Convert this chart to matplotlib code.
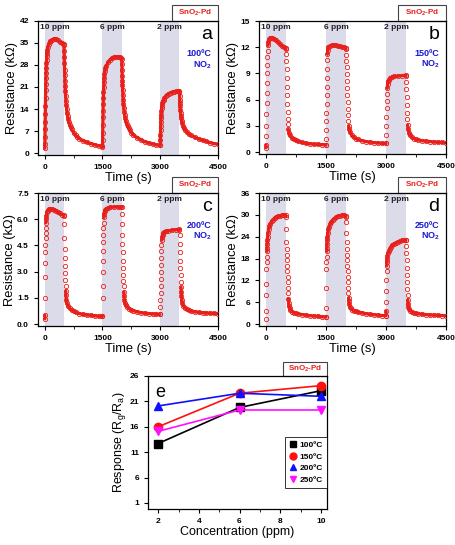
import numpy as np
import matplotlib
matplotlib.use("Agg")
import matplotlib.pyplot as plt
from matplotlib.patches import Rectangle
from matplotlib.lines import Line2D
from matplotlib.collections import LineCollection
from matplotlib.ticker import AutoMinorLocator, FormatStrFormatter

plt.rcParams['font.family'] = ['Liberation Sans', 'DejaVu Sans']
plt.rcParams['mathtext.fontset'] = 'custom'
plt.rcParams['mathtext.rm'] = 'Liberation Sans'
plt.rcParams['mathtext.bf'] = 'Liberation Sans:bold'
plt.rcParams['mathtext.it'] = 'Liberation Sans:italic'

# exposure windows (s) and their concentrations
pulses = [(0, 500), (1500, 2000), (3000, 3500)]
pulse_labels = ["10 ppm", "6 ppm", "2 ppm"]

# ---- panel a : 100 C ----
t_a = [0, 3, 6, 9, 12, 15, 18, 21, 24, 27, 30, 34, 38, 43, 48, 54, 60, 70, 80, 100, 125, 150, 200, 250, 300, 350, 400, 450, 490,
       500, 504, 508, 512, 516, 520, 525, 530, 536, 543, 551, 560, 570, 582, 596, 612, 630, 650, 675, 700, 750, 800, 850, 900, 1000, 1100, 1200, 1300, 1400, 1490,
       1500, 1503, 1506, 1509, 1512, 1515, 1518, 1522, 1526, 1531, 1537, 1544, 1552, 1562, 1575, 1600, 1650, 1700, 1750, 1800, 1850, 1900, 1950, 1990,
       2000, 2004, 2008, 2012, 2016, 2020, 2025, 2031, 2038, 2046, 2055, 2066, 2078, 2092, 2110, 2130, 2155, 2180, 2210, 2250, 2300, 2400, 2500, 2600, 2700, 2800, 2900, 2990,
       3000, 3003, 3006, 3009, 3012, 3015, 3019, 3024, 3030, 3037, 3046, 3058, 3072, 3090, 3110, 3140, 3175, 3220, 3270, 3320, 3370, 3420, 3470, 3495,
       3500, 3504, 3508, 3512, 3517, 3523, 3530, 3538, 3548, 3560, 3575, 3595, 3620, 3650, 3700, 3750, 3800, 3900, 4000, 4100, 4200, 4300, 4400, 4500]
r_a = [1.5, 3, 5, 7.5, 10, 12.5, 15, 17.5, 20, 22, 23.8, 25.5, 27, 28.5, 29.7, 30.8, 31.7, 32.8, 33.6, 34.6, 35.3, 35.7, 36.1, 36.3, 36.2, 35.8, 35.3, 35.0, 34.7,
       34.5, 32.5, 30.5, 28.5, 26.5, 24.8, 23, 21.3, 19.6, 18, 16.5, 15.2, 14, 12.8, 11.7, 10.7, 9.8, 9.0, 8.2, 7.5, 6.5, 5.7, 5.1, 4.6, 3.9, 3.4, 3.0, 2.6, 2.3, 2.1,
       2.0, 4, 6.5, 9, 11.5, 13.5, 15.5, 17.5, 19.3, 21, 22.5, 23.8, 25, 26, 26.9, 27.8, 28.9, 29.7, 30.2, 30.5, 30.6, 30.6, 30.5, 30.3,
       30.0, 28.2, 26.4, 24.6, 23, 21.5, 20, 18.5, 17, 15.6, 14.4, 13.2, 12.1, 11.1, 10.1, 9.3, 8.5, 7.8, 7.2, 6.5, 5.8, 4.9, 4.2, 3.6, 3.2, 2.9, 2.6, 2.4,
       2.4, 4, 5.7, 7.2, 8.6, 9.8, 11, 12.2, 13.3, 14.2, 15, 15.8, 16.4, 17, 17.5, 18, 18.5, 18.9, 19.2, 19.4, 19.5, 19.6, 19.6, 19.6,
       19.4, 18.2, 17, 15.9, 14.8, 13.8, 12.8, 11.9, 11, 10.2, 9.4, 8.6, 7.9, 7.3, 6.6, 6.0, 5.6, 5.0, 4.5, 4.1, 3.7, 3.3, 3.0, 2.8]

# ---- panel b : 150 C ----
t_b = [0, 3, 6, 9, 12, 15, 18, 21, 25, 30, 35, 40, 50, 60, 80, 100, 150, 200, 250, 300, 350, 400, 450, 490,
       500, 505, 510, 515, 520, 525, 530, 535, 540, 545, 550, 560, 575, 600, 650, 700, 750, 800, 900, 1000, 1100, 1200, 1300, 1400, 1490,
       1500, 1503, 1506, 1509, 1512, 1515, 1518, 1521, 1524, 1527, 1531, 1536, 1545, 1560, 1600, 1650, 1700, 1750, 1800, 1850, 1900, 1950, 1990,
       2000, 2005, 2010, 2015, 2020, 2025, 2030, 2035, 2040, 2045, 2050, 2055, 2065, 2080, 2100, 2150, 2200, 2250, 2300, 2400, 2500, 2600, 2700, 2800, 2900, 2990,
       3000, 3004, 3008, 3012, 3016, 3020, 3025, 3032, 3040, 3055, 3075, 3100, 3150, 3200, 3300, 3400, 3490,
       3500, 3505, 3510, 3515, 3520, 3525, 3530, 3540, 3555, 3575, 3600, 3650, 3700, 3750, 3800, 3900, 4000, 4100, 4200, 4300, 4400, 4500]
r_b = [0.5, 0.8, 1.8, 3.0, 4.3, 5.6, 6.8, 7.9, 9.0, 10.0, 10.9, 11.6, 12.2, 12.6, 12.9, 13.05, 13.1, 13.0, 12.8, 12.6, 12.35, 12.15, 12.0, 11.9,
       11.8, 11.2, 10.4, 9.5, 8.5, 7.5, 6.5, 5.5, 4.6, 3.8, 3.2, 2.6, 2.2, 1.9, 1.6, 1.45, 1.35, 1.25, 1.1, 1.0, 0.95, 0.9, 0.87, 0.85, 0.83,
       0.8, 1.5, 2.5, 3.5, 4.5, 5.5, 6.5, 7.5, 8.5, 9.5, 10.5, 11.2, 11.7, 12.0, 12.15, 12.25, 12.25, 12.2, 12.15, 12.1, 12.05, 12.0, 11.95,
       11.8, 11.1, 10.4, 9.7, 8.9, 8.1, 7.3, 6.5, 5.7, 4.9, 4.2, 3.6, 3.0, 2.6, 2.3, 1.9, 1.7, 1.55, 1.45, 1.3, 1.2, 1.13, 1.08, 1.04, 1.0, 0.98,
       1.0, 2.0, 3.0, 4.0, 5.0, 5.9, 6.7, 7.3, 7.8, 8.1, 8.3, 8.45, 8.6, 8.65, 8.7, 8.75, 8.8,
       8.7, 8.0, 7.2, 6.3, 5.4, 4.5, 3.8, 3.1, 2.6, 2.2, 1.95, 1.7, 1.55, 1.47, 1.4, 1.3, 1.25, 1.2, 1.15, 1.12, 1.1, 1.08]

# ---- panel c : 200 C ----
t_c = [0, 3, 6, 9, 12, 15, 18, 21, 24, 28, 32, 37, 43, 55, 75, 100, 150, 200, 250, 300, 350, 400, 450, 490,
       500, 505, 510, 515, 520, 525, 530, 535, 540, 545, 550, 560, 575, 600, 650, 700, 750, 800, 900, 1000, 1100, 1200, 1300, 1400, 1490,
       1500, 1503, 1506, 1509, 1512, 1515, 1518, 1521, 1525, 1530, 1536, 1543, 1555, 1575, 1600, 1650, 1700, 1800, 1900, 1990,
       2000, 2005, 2010, 2015, 2020, 2025, 2030, 2035, 2040, 2045, 2050, 2055, 2062, 2070, 2085, 2100, 2150, 2200, 2250, 2300, 2400, 2500, 2600, 2700, 2800, 2900, 2990,
       3000, 3003, 3006, 3009, 3012, 3015, 3018, 3021, 3024, 3028, 3033, 3040, 3050, 3065, 3085, 3110, 3150, 3200, 3300, 3400, 3490,
       3500, 3505, 3510, 3515, 3520, 3525, 3530, 3535, 3540, 3545, 3552, 3560, 3575, 3600, 3650, 3700, 3750, 3800, 3900, 4000, 4100, 4200, 4300, 4400, 4500]
r_c = [0.3, 0.5, 1.5, 2.7, 3.5, 4.1, 4.5, 4.9, 5.2, 5.5, 5.8, 6.0, 6.2, 6.4, 6.5, 6.57, 6.6, 6.6, 6.55, 6.48, 6.4, 6.33, 6.27, 6.22,
       6.2, 5.7, 4.9, 4.3, 3.8, 3.3, 2.9, 2.5, 2.2, 1.9, 1.65, 1.4, 1.2, 1.05, 0.9, 0.8, 0.73, 0.68, 0.6, 0.55, 0.52, 0.5, 0.47, 0.45, 0.44,
       0.45, 1.5, 2.2, 3.0, 3.6, 4.2, 4.7, 5.1, 5.5, 5.8, 6.1, 6.3, 6.45, 6.55, 6.6, 6.65, 6.68, 6.7, 6.72, 6.72,
       6.7, 6.3, 5.7, 5.1, 4.6, 4.1, 3.6, 3.2, 2.8, 2.45, 2.15, 1.85, 1.6, 1.4, 1.2, 1.1, 0.97, 0.88, 0.82, 0.77, 0.7, 0.65, 0.62, 0.6, 0.58, 0.56, 0.55,
       0.55, 1.0, 1.4, 1.8, 2.2, 2.6, 3.0, 3.4, 3.8, 4.2, 4.5, 4.8, 5.0, 5.12, 5.2, 5.25, 5.3, 5.33, 5.37, 5.4, 5.42,
       5.4, 5.1, 4.6, 4.1, 3.6, 3.2, 2.8, 2.4, 2.1, 1.85, 1.6, 1.4, 1.2, 1.05, 0.92, 0.84, 0.79, 0.75, 0.7, 0.67, 0.65, 0.63, 0.62, 0.61, 0.6]

# ---- panel d : 250 C ----
t_d = [0, 3, 6, 9, 12, 15, 18, 21, 24, 28, 33, 40, 50, 65, 85, 110, 140, 175, 215, 260, 300, 350, 400, 450, 490,
       500, 505, 510, 515, 520, 525, 530, 535, 540, 545, 550, 555, 560, 567, 575, 590, 610, 650, 700, 750, 800, 900, 1000, 1100, 1200, 1300, 1400, 1490,
       1500, 1503, 1506, 1509, 1512, 1515, 1518, 1521, 1525, 1530, 1537, 1547, 1560, 1580, 1605, 1635, 1670, 1710, 1750, 1800, 1850, 1900, 1950, 1990,
       2000, 2005, 2010, 2015, 2020, 2025, 2030, 2035, 2040, 2045, 2050, 2055, 2060, 2066, 2073, 2082, 2095, 2120, 2160, 2200, 2250, 2300, 2400, 2500, 2600, 2700, 2800, 2900, 2990,
       3000, 3003, 3006, 3009, 3012, 3015, 3018, 3022, 3028, 3037, 3050, 3070, 3095, 3125, 3160, 3200, 3250, 3300, 3350, 3400, 3450, 3490,
       3500, 3505, 3510, 3515, 3520, 3525, 3530, 3535, 3540, 3546, 3553, 3562, 3575, 3600, 3650, 3700, 3750, 3800, 3900, 4000, 4100, 4200, 4300, 4400, 4500]
r_d = [1.5, 3.5, 8.0, 11.0, 15.0, 17.0, 18.5, 20.0, 21.0, 22.0, 23.0, 24.0, 25.0, 26.0, 26.9, 27.6, 28.2, 28.7, 29.1, 29.4, 29.6, 29.7, 29.9, 30.0, 29.9,
       29.5, 26.0, 22.5, 20.5, 19.0, 17.5, 16.0, 14.5, 13.0, 11.5, 10.0, 8.5, 7.0, 5.8, 5.0, 4.3, 3.8, 3.4, 3.1, 2.95, 2.8, 2.6, 2.45, 2.3, 2.2, 2.1, 2.0, 1.95,
       2.0, 4.5, 10.0, 15.0, 17.0, 18.5, 20.0, 21.0, 22.0, 23.0, 24.0, 25.0, 26.0, 26.8, 27.5, 28.1, 28.6, 29.0, 29.3, 29.6, 29.8, 29.9, 30.0, 29.8,
       29.5, 28.0, 25.0, 22.5, 20.5, 19.0, 17.5, 16.0, 14.5, 13.0, 11.5, 10.0, 8.5, 7.2, 6.2, 5.4, 4.8, 4.3, 3.9, 3.7, 3.5, 3.3, 3.05, 2.85, 2.7, 2.55, 2.45, 2.35, 2.3,
       2.3, 3.5, 6.0, 9.0, 12.0, 14.5, 16.0, 17.0, 18.0, 18.8, 19.5, 20.1, 20.7, 21.2, 21.6, 22.0, 22.3, 22.6, 22.8, 23.0, 23.1, 23.2,
       23.0, 21.5, 19.5, 17.5, 15.5, 13.5, 11.5, 9.5, 8.0, 6.6, 5.5, 4.7, 4.1, 3.7, 3.3, 3.1, 2.95, 2.85, 2.7, 2.6, 2.5, 2.45, 2.4, 2.35, 2.3]

# ---- panel e : response vs concentration ----
conc = [2, 6, 10]
resp_100 = [12.7, 19.8, 23.1]
resp_150 = [16.0, 22.6, 24.1]
resp_200 = [20.1, 22.6, 22.0]
resp_250 = [15.1, 19.3, 19.3]

red = '#e8201c'
shade = '#dcdbea'


def bold_ticks(ax, size=6):
    ax.tick_params(which='both', direction='out', labelsize=size, top=False, right=False)
    ax.tick_params(which='major', length=3, width=0.8)
    ax.tick_params(which='minor', length=1.8, width=0.6)
    for lab in ax.get_xticklabels() + ax.get_yticklabels():
        lab.set_fontweight('bold')


def tag_box(ax, w, h):
    ax.add_patch(Rectangle((1 - w, 1.0), w, h, transform=ax.transAxes, clip_on=False,
                           facecolor='white', edgecolor='#444444', lw=0.8))
    ax.text(1 - w / 2, 1 + h / 2, r'SnO$_\mathbf{2}$-Pd', transform=ax.transAxes, ha='center', va='center',
            color=red, fontsize=5.8, fontweight='bold')


def transient(rect, t, r, ymax, step, letter, temp, fmt=None, dense=0.035):
    ax = fig.add_axes(rect)
    for (s, e) in pulses:
        ax.axvspan(s, e, color=shade, lw=0, zorder=0)
    t = np.asarray(t, float)
    r = np.asarray(r, float)
    # the densely sampled slow parts read as a solid band; fast edges stay as loose circles
    segs = [[(t[i], r[i]), (t[i + 1], r[i + 1])] for i in range(len(t) - 1)
            if abs(r[i + 1] - r[i]) < dense * ymax]
    ax.add_collection(LineCollection(segs, colors=red, linewidths=2.3, capstyle='round', zorder=2))
    ax.plot(t, r, ls='none', marker='o', ms=3.1, mfc='none', mec=red, mew=0.6, zorder=3)
    ax.set_xlim(-175, 4500)
    ax.set_ylim(-0.015 * ymax, ymax)
    ax.set_xticks([0, 1500, 3000, 4500])
    ax.xaxis.set_minor_locator(AutoMinorLocator(2))
    ax.set_yticks(np.arange(0, ymax + step / 2, step))
    if fmt:
        ax.yaxis.set_major_formatter(FormatStrFormatter(fmt))
    for (s, e), lab in zip(pulses, pulse_labels):
        ax.text((s + e) / 2, 0.975 * ymax, lab, ha='center', va='top', fontsize=6, fontweight='bold', color='#222222')
    ax.text(0.965, 0.90, letter, transform=ax.transAxes, ha='right', va='center', fontsize=14)
    ax.text(0.965, 0.757, temp, transform=ax.transAxes, ha='right', va='center', fontsize=6.5,
            fontweight='bold', color='#1a1ad0')
    ax.text(0.965, 0.672, r'NO$_\mathbf{2}$', transform=ax.transAxes, ha='right', va='center', fontsize=6.5,
            fontweight='bold', color='#1a1ad0')
    ax.set_xlabel('Time (s)', fontsize=9.3, labelpad=1)
    ax.set_ylabel(u'Resistance (k\u03a9)', fontsize=9.3, labelpad=1)
    for sp in ax.spines.values():
        sp.set_linewidth(0.9)
    bold_ticks(ax)
    tag_box(ax, 0.255, 0.12)
    return ax


fig = plt.figure(figsize=(4.56, 5.45), dpi=100)

transient([0.0833, 0.7156, 0.3947, 0.2459], t_a, r_a, 42, 7, 'a', u'100\u00baC', dense=0.07)
transient([0.568, 0.7174, 0.410, 0.244], t_b, r_b, 15, 3, 'b', u'150\u00baC')
transient([0.0833, 0.4018, 0.3947, 0.244], t_c, r_c, 7.5, 1.5, 'c', u'200\u00baC', fmt='%.1f')
transient([0.568, 0.4018, 0.410, 0.244], t_d, r_d, 36, 6, 'd', u'250\u00baC')

ax = fig.add_axes([0.3246, 0.0661, 0.3925, 0.244])
series = [(resp_100, 'black', 's', u'100\u00baC'),
          (resp_150, '#ff1010', 'o', u'150\u00baC'),
          (resp_200, '#1010ff', '^', u'200\u00baC'),
          (resp_250, '#ff10ff', 'v', u'250\u00baC')]
handles = []
for vals, col, mk, lab in series:
    ax.plot(conc, vals, color=col, lw=1.2, marker=mk, ms=6, mec=col, mfc=col)
    handles.append(Line2D([], [], ls='none', color=col, marker=mk, ms=5, label=lab))
ax.set_xlim(1.5, 10.3)
ax.set_ylim(-0.2, 26)
ax.set_xticks([2, 4, 6, 8, 10])
ax.xaxis.set_minor_locator(AutoMinorLocator(2))
ax.set_yticks([1, 6, 11, 16, 21, 26])
ax.set_xlabel('Concentration (ppm)', fontsize=9, labelpad=1)
ax.set_ylabel(r'Response (R$_\mathrm{g}$/R$_\mathrm{a}$)', fontsize=9, labelpad=1)
ax.text(0.04, 0.876, 'e', transform=ax.transAxes, ha='left', va='center', fontsize=13)
leg = ax.legend(handles=handles, loc='lower right', bbox_to_anchor=(1.0, 0.158),
                prop={'weight': 'bold', 'size': 6}, frameon=True, fancybox=False, edgecolor='black',
                handlelength=0.8, handletextpad=0.4, borderpad=0.5, labelspacing=0.45, borderaxespad=0)
leg.get_frame().set_linewidth(0.7)
for sp in ax.spines.values():
    sp.set_linewidth(0.9)
bold_ticks(ax)
tag_box(ax, 0.246, 0.105)

fig.savefig('out.png', dpi=100)
